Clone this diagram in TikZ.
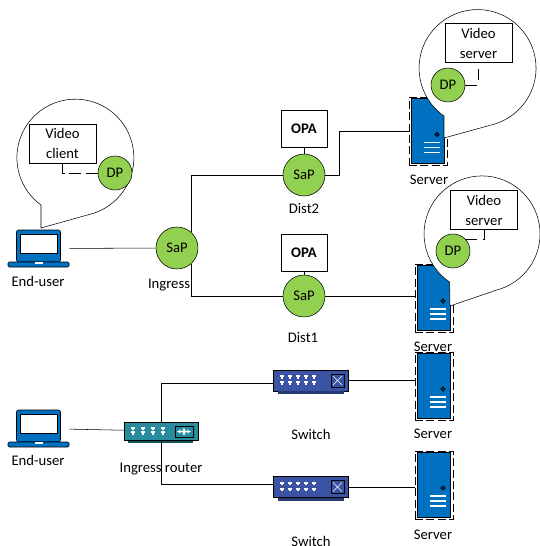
\documentclass[tikz,border=0pt]{standalone}
\usepackage{fontspec}
\setmainfont{Carlito}
\definecolor{sapgreen}{HTML}{92D050}
\definecolor{srvblue}{HTML}{0070C0}
\definecolor{routerteal}{HTML}{2A8A9E}
\definecolor{switchblue}{HTML}{3A53A4}
% server: dashed frame, blue case, button and vents
\newcommand{\servernode}[3]{
  \node[srvframe] (#1) at (#2,#3) {};
  \begin{scope}[shift={(#2,#3)}]
    \draw[srvcase] (-16.5,-33) rectangle (16.5,32);
    \draw[line width=0.8pt] (9,3) circle (1.8);
    \draw[white,line width=0.8pt] (-4,11) -- (12,11) (-4,16) -- (12,16) (-4,21) -- (12,21);
  \end{scope}
}
% laptop, #2 #3 is the middle of the whole thing
\newcommand{\laptopnode}[3]{
  \node[laptopbox] (#1) at (#2,#3) {};
  \begin{scope}[shift={(#2,#3)}]
    \draw[fill=srvblue,rounded corners=1.5pt] (-22,-18.5) rectangle (22,13.5);
    \draw[fill=white] (-18,-14) rectangle (18.5,5);
    \draw[fill=srvblue,rounded corners=1pt] (-30.5,13.5) rectangle (30.5,18.5);
    \fill[white] (-4,13.8) rectangle (4,15.5);
  \end{scope}
}
% ports of a router or a switch
\newcommand{\portrows}[4]{
  \foreach \px in {#1}{
    \foreach \py in {#2,#3}{
      \fill[white] (\px-2.4,\py-1.6) rectangle (\px+2.4,\py+0.2);
      \fill[white] (\px-1.1,\py) rectangle (\px+1.1,\py+#4);
    }
  }
}
\begin{document}
\begin{tikzpicture}[x=0.75pt,y=0.75pt,yscale=-1]
  \tikzstyle{every node}=[font=\fontsize{11}{15}\selectfont]
  \tikzstyle{srvframe}=[draw,densely dashed,dash pattern=on 6pt off 2.5pt,minimum width=28.5pt,minimum height=51pt,inner sep=0pt]
  \tikzstyle{srvcase}=[draw,fill=srvblue]
  \tikzstyle{laptopbox}=[minimum width=45.75pt,minimum height=27.75pt,inner sep=0pt]
  \tikzstyle{sapnode}=[circle,draw,fill=sapgreen,minimum size=31.5pt,inner sep=0pt]
  \tikzstyle{dpnode}=[circle,draw,fill=sapgreen,minimum size=25.5pt,inner sep=0pt]
  \tikzstyle{opabox}=[draw,fill=white,minimum width=34.5pt,minimum height=28pt,inner sep=0pt,font=\fontsize{11}{15}\selectfont\bfseries]
  \tikzstyle{videobox}=[draw,fill=white,minimum width=50pt,minimum height=29pt,inner sep=0pt,align=center]
  \tikzstyle{bubble}=[draw,fill=white]
  \tikzstyle{dashline}=[dash pattern=on 8.6pt off 4.9pt]
  \tikzstyle{routerbox}=[draw,fill=routerteal,minimum width=55.5pt,minimum height=13.5pt,inner sep=0pt]
  \tikzstyle{switchbox}=[draw,fill=switchblue,minimum width=56pt,minimum height=15.5pt,inner sep=0pt]
  \useasboundingbox (0,0) rectangle (539,546);

  % top half
  \laptopnode{user1}{38.5}{248.5}
  \node[sapnode] (ingress) at (177,248) {SaP};
  \node[sapnode] (dist2) at (304,175) {SaP};
  \node[sapnode] (dist1) at (304,296) {SaP};
  \node[opabox] (opa2) at (304,128.5) {OPA};
  \node[opabox] (opa1) at (304,252.5) {OPA};
  \servernode{srv1}{428}{131.5}
  \servernode{srv2}{434}{298}

  \draw (user1) -- (ingress);
  \draw (dist2) -| (ingress.48);
  \draw (dist1) -| (ingress.-48);
  \draw (opa2) -- (dist2);
  \draw (opa1) -- (dist1);
  \draw (dist2.east) -- ++(14,0) |- (srv1.west);
  \draw (dist1.east) -- (dist1.east -| srv2.west);

  % callouts
  \draw[bubble] (41,228) -- (41,205) arc[start angle=126,end angle=432,radius=58.5] -- cycle;
  \draw[bubble] (444,138) -- (444,116) arc[start angle=125,end angle=435,radius=58.5] -- cycle;
  \draw[bubble] (450,306) -- (449.6,282) arc[start angle=124,end angle=435.5,radius=58] -- cycle;

  \node[videobox] (client) at (62.5,143.5) {Video\\client};
  \node[dpnode] (dpc) at (115,173) {DP};
  \draw[dash pattern=on 9pt off 3.4pt] (client) |- (dpc);
  \node[videobox] (vsrv1) at (478.5,43) {Video\\server};
  \node[dpnode] (dps1) at (448,85) {DP};
  \draw[dashline] (dps1) -| (vsrv1);
  \node[videobox] (vsrv2) at (484,210) {Video\\server};
  \node[dpnode] (dps2) at (453,251) {DP};
  \draw[dashline] (dps2.45) -| (vsrv2);

  % lower half
  \laptopnode{user2}{38.5}{428.5}
  \node[routerbox] (router) at (161,431) {};
  \fill[routerteal!60!black] (128,440.5) rectangle (193,442.5);
  \portrows{133,143,153,163}{428.5}{433}{1.6}
  \draw[fill=routerteal] (175,426) rectangle (193,437);
  \draw[white,line width=0.4pt,<->,>=stealth] (177,431.5) -- (191,431.5);
  \draw[white,line width=0.4pt,<->,>=stealth] (184,427.5) -- (184,435.5);
  \node[switchbox] (switch1) at (310.5,380.5) {};
  \fill[switchblue!70!black] (278,391) rectangle (344,394);
  \portrows{282,290,298,306,314}{377}{383}{1.6}
  \draw[fill=switchblue] (331,374) rectangle (344,387);
  \draw[white,line width=0.4pt] (333,376) -- (342,385) (333,385) -- (342,376);
  \node[switchbox] (switch2) at (310.5,487) {};
  \fill[switchblue!70!black] (278,497.5) rectangle (344,501);
  \portrows{282,290,298,306,314}{483.5}{489.5}{1.6}
  \draw[fill=switchblue] (331,480.5) rectangle (344,493.5);
  \draw[white,line width=0.4pt] (333,482.5) -- (342,491.5) (333,491.5) -- (342,482.5);
  \servernode{srv3}{434}{386}
  \servernode{srv4}{434}{485}

  \draw (user2) -- (router);
  \draw (router) |- ([yshift=2.3pt]switch1.west);
  \draw (router) |- ([yshift=-2.3pt]switch2.west);
  \draw (switch1.east) -- (switch1.east -| srv3.west);
  \draw (switch2.east) -- (switch2.east -| srv4.west);

  % labels
  \node (luser1) at (38,281) {End-user};
  \node (lingress) at (169,285) {Ingress};
  \node (ldist2) at (304,209) {Dist2};
  \node (ldist1) at (303,338) {Dist1};
  \node (lsrv1) at (429,180) {Server};
  \node (lsrv2) at (433,347) {Server};
  \node (luser2) at (38,460) {End-user};
  \node (lrouter) at (161,469) {Ingress router};
  \node (lswitch1) at (311,434) {Switch};
  \node (lswitch2) at (311,541) {Switch};
  \node (lsrv3) at (433,434) {Server};
  \node (lsrv4) at (433,535) {Server};
\end{tikzpicture}
\end{document}
